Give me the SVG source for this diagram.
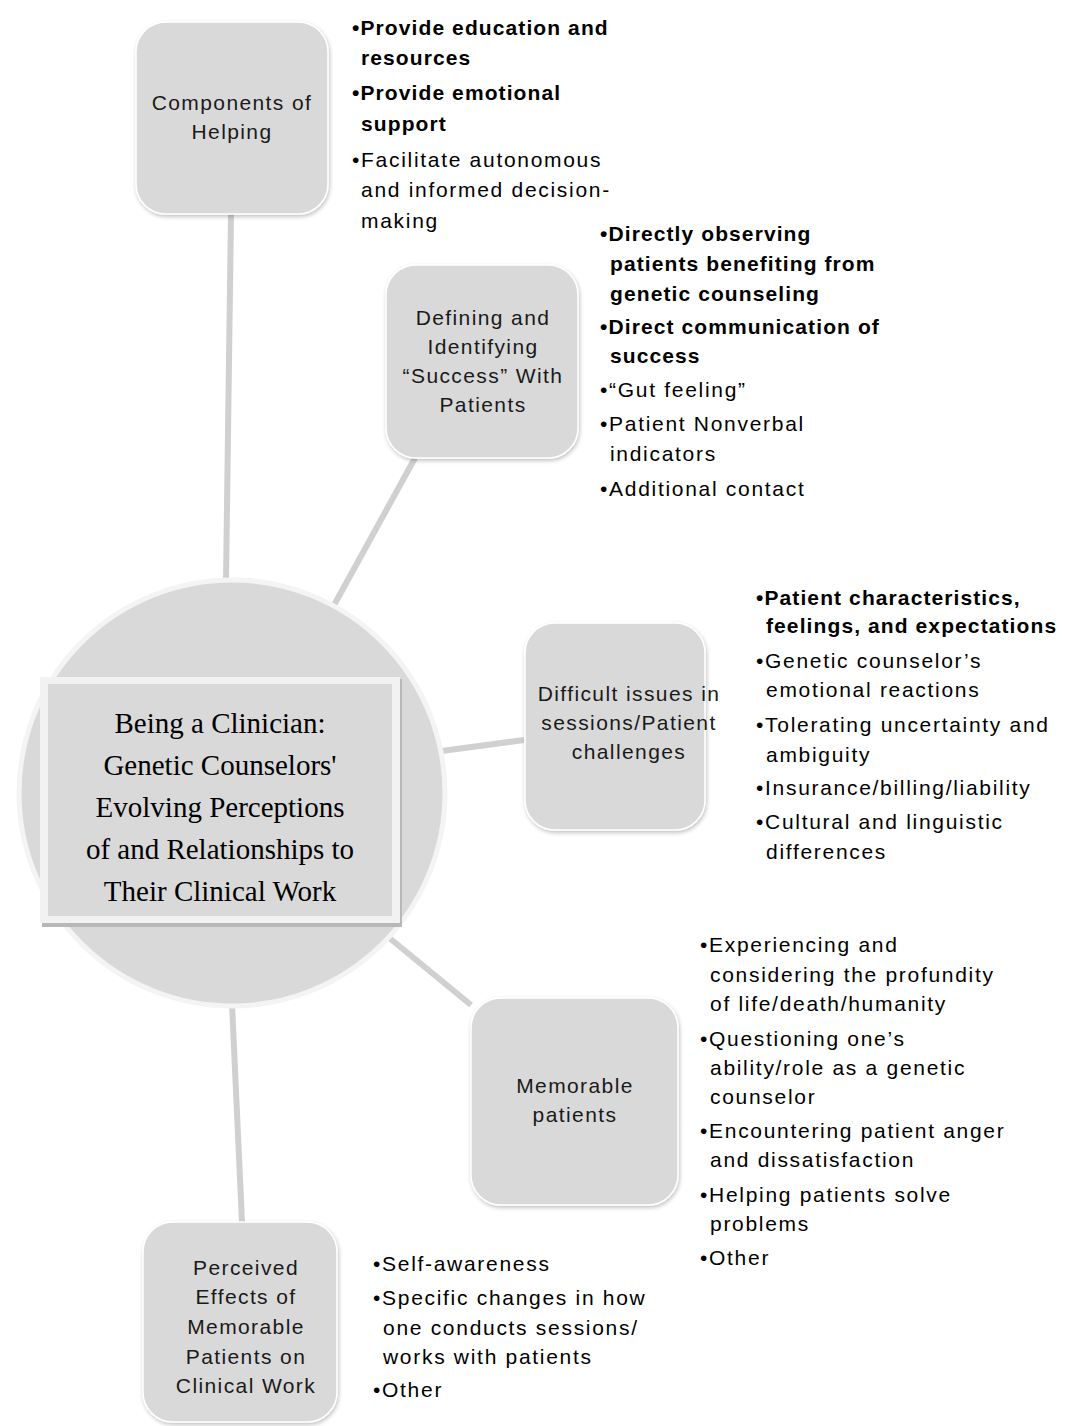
<svg xmlns="http://www.w3.org/2000/svg" width="1065" height="1426" viewBox="0 0 1065 1426">
<defs>
<style>
.node{fill:#d9d9d9;stroke:#ffffff;stroke-width:1.5}
.lbl{font-family:"Liberation Sans",Arial,sans-serif;font-size:21px;letter-spacing:1.4px;fill:#1a1a1a;text-anchor:middle}
.bul{font-family:"Liberation Sans",Arial,sans-serif;font-size:21px;letter-spacing:1.7px;fill:#000}
.b{font-weight:bold;letter-spacing:1.1px}
.title{font-family:"Liberation Serif","Times New Roman",serif;font-size:29px;fill:#000;text-anchor:middle}
.con{stroke:#d0d0d0;stroke-width:6;fill:none;stroke-linecap:butt}
</style>
<filter id="sh" x="-10%" y="-10%" width="130%" height="130%">
<feGaussianBlur in="SourceAlpha" stdDeviation="2"/>
<feOffset dx="1" dy="2"/>
<feComponentTransfer><feFuncA type="linear" slope="0.25"/></feComponentTransfer>
<feMerge><feMergeNode/><feMergeNode in="SourceGraphic"/></feMerge>
</filter>
</defs>
<rect width="1065" height="1426" fill="#ffffff"/>

<g id="connectors">
<line class="con" x1="231" y1="214" x2="226" y2="580"/>
<line class="con" x1="415" y1="458" x2="333" y2="607"/>
<line class="con" x1="524" y1="740" x2="434" y2="752"/>
<line class="con" x1="471" y1="1005" x2="387" y2="936"/>
<line class="con" x1="232" y1="1004" x2="242" y2="1222"/>
</g>

<g id="center">
<circle cx="232" cy="793" r="213" fill="#d9d9d9" stroke="#f4f4f4" stroke-width="5"/>
<rect x="42" y="679" width="360" height="248" fill="#b8b8b8"/>
<rect x="40" y="677" width="360" height="246" fill="#f2f2f2"/>
<rect x="48" y="684" width="344" height="232" fill="#d9d9d9"/>
<text class="title" x="220" y="733">Being a Clinician:</text>
<text class="title" x="220" y="775">Genetic Counselors'</text>
<text class="title" x="220" y="817">Evolving Perceptions</text>
<text class="title" x="220" y="859">of and Relationships to</text>
<text class="title" x="220" y="901">Their Clinical Work</text>
</g>

<g id="components">
<rect class="node" filter="url(#sh)" x="136" y="22" width="192" height="192" rx="30"/>
<text class="lbl" x="232" y="110">Components of</text>
<text class="lbl" x="232" y="139">Helping</text>
<text class="bul b" x="352" y="35">•Provide education and</text>
<text class="bul b" x="361" y="65">resources</text>
<text class="bul b" x="352" y="100">•Provide emotional</text>
<text class="bul b" x="361" y="131">support</text>
<text class="bul" x="352" y="167">•Facilitate autonomous</text>
<text class="bul" x="361" y="197">and informed decision-</text>
<text class="bul" x="361" y="228">making</text>
</g>

<g id="defining">
<rect class="node" filter="url(#sh)" x="386" y="265" width="192" height="193" rx="30"/>
<text class="lbl" x="483" y="325">Defining and</text>
<text class="lbl" x="483" y="354">Identifying</text>
<text class="lbl" x="483" y="383">“Success” With</text>
<text class="lbl" x="483" y="412">Patients</text>
<text class="bul b" x="600" y="241">•Directly observing</text>
<text class="bul b" x="610" y="271">patients benefiting from</text>
<text class="bul b" x="610" y="301">genetic counseling</text>
<text class="bul b" x="600" y="334">•Direct communication of</text>
<text class="bul b" x="610" y="363">success</text>
<text class="bul" x="600" y="397">•“Gut feeling”</text>
<text class="bul" x="600" y="431">•Patient Nonverbal</text>
<text class="bul" x="610" y="461">indicators</text>
<text class="bul" x="600" y="496">•Additional contact</text>
</g>

<g id="difficult">
<rect class="node" filter="url(#sh)" x="525" y="623" width="180" height="207" rx="30"/>
<text class="lbl" x="629" y="701">Difficult issues in</text>
<text class="lbl" x="629" y="730">sessions/Patient</text>
<text class="lbl" x="629" y="759">challenges</text>
<text class="bul b" x="756" y="605">•Patient characteristics,</text>
<text class="bul b" x="766" y="633">feelings, and expectations</text>
<text class="bul" x="756" y="668">•Genetic counselor’s</text>
<text class="bul" x="766" y="697">emotional reactions</text>
<text class="bul" x="756" y="732">•Tolerating uncertainty and</text>
<text class="bul" x="766" y="762">ambiguity</text>
<text class="bul" x="756" y="795">•Insurance/billing/liability</text>
<text class="bul" x="756" y="829">•Cultural and linguistic</text>
<text class="bul" x="766" y="859">differences</text>
</g>

<g id="memorable">
<rect class="node" filter="url(#sh)" x="471" y="998" width="207" height="207" rx="30"/>
<text class="lbl" x="575" y="1093">Memorable</text>
<text class="lbl" x="575" y="1122">patients</text>
<text class="bul" x="700" y="952">•Experiencing and</text>
<text class="bul" x="710" y="982">considering the profundity</text>
<text class="bul" x="710" y="1011">of life/death/humanity</text>
<text class="bul" x="700" y="1046">•Questioning one’s</text>
<text class="bul" x="710" y="1075">ability/role as a genetic</text>
<text class="bul" x="710" y="1104">counselor</text>
<text class="bul" x="700" y="1138">•Encountering patient anger</text>
<text class="bul" x="710" y="1167">and dissatisfaction</text>
<text class="bul" x="700" y="1202">•Helping patients solve</text>
<text class="bul" x="710" y="1231">problems</text>
<text class="bul" x="700" y="1265">•Other</text>
</g>

<g id="perceived">
<rect class="node" filter="url(#sh)" x="143" y="1222" width="194" height="200" rx="30"/>
<text class="lbl" x="246" y="1275">Perceived</text>
<text class="lbl" x="246" y="1304">Effects of</text>
<text class="lbl" x="246" y="1334">Memorable</text>
<text class="lbl" x="246" y="1364">Patients on</text>
<text class="lbl" x="246" y="1393">Clinical Work</text>
<text class="bul" x="373" y="1271">•Self-awareness</text>
<text class="bul" x="373" y="1305">•Specific changes in how</text>
<text class="bul" x="383" y="1335">one conducts sessions/</text>
<text class="bul" x="383" y="1364">works with patients</text>
<text class="bul" x="373" y="1397">•Other</text>
</g>
</svg>
